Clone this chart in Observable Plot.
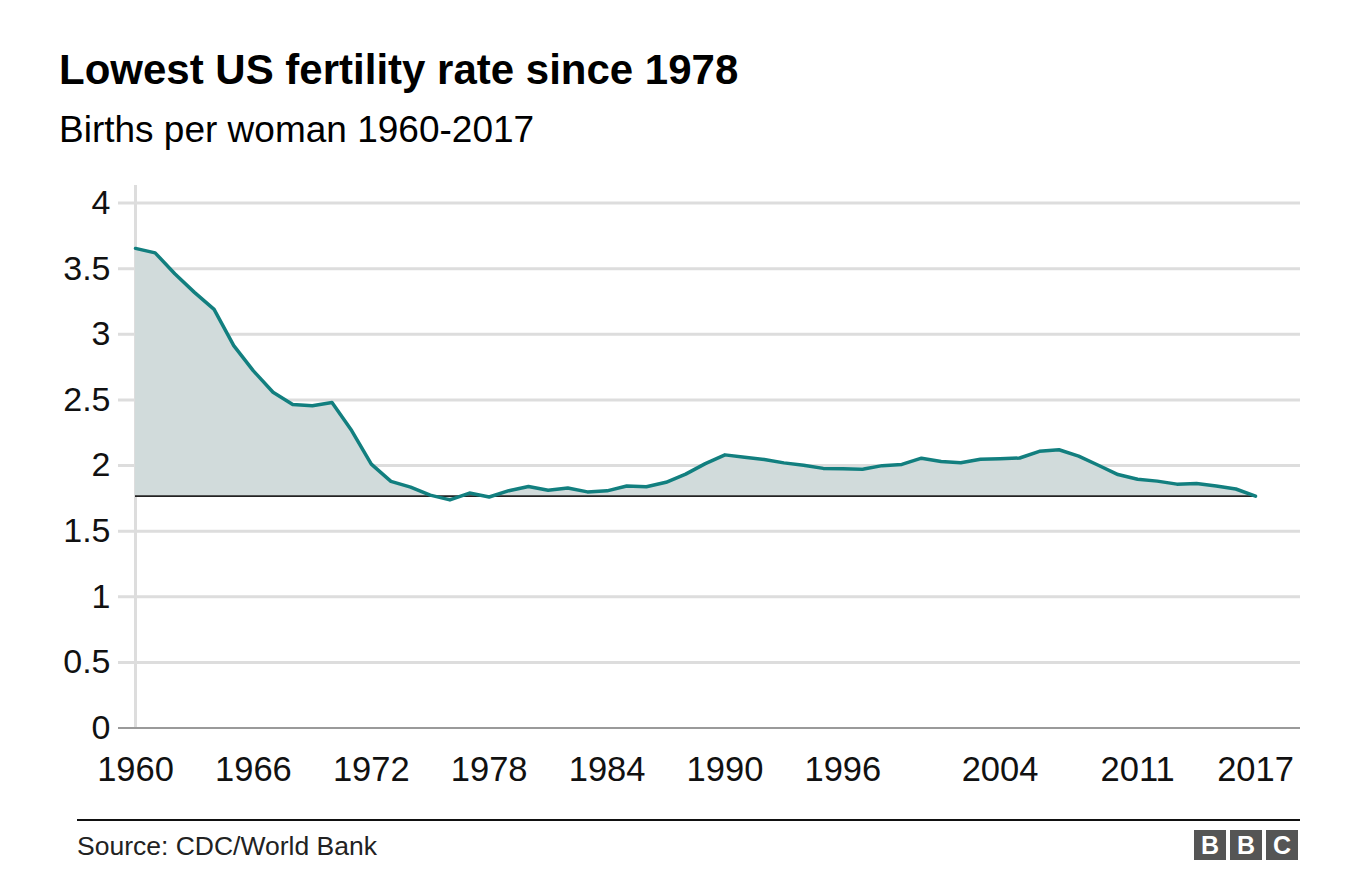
<!DOCTYPE html>
<html>
<head>
<meta charset="utf-8">
<script src="https://cdn.jsdelivr.net/npm/d3@7"></script>
<script src="https://cdn.jsdelivr.net/npm/@observablehq/plot@0.6"></script>
<style>
  html, body { margin: 0; padding: 0; background: #fff; }
  body { width: 1365px; height: 878px; position: relative; overflow: hidden; font-family: "Liberation Sans", Arial, sans-serif; color: #000; }
  .t { position: absolute; line-height: 1; white-space: nowrap; }
  #title { left: 59px; top: 49px; font-size: 42px; font-weight: bold; }
  #subtitle { left: 59px; top: 111px; font-size: 37px; }
  #chart { position: absolute; left: 0; top: 170px; }
  #rule { position: absolute; left: 77px; top: 819px; width: 1223px; height: 2px; background: #111; }
  #source { left: 77px; top: 833px; font-size: 26.5px; color: #222; }
  #logo { position: absolute; left: 1194px; top: 830px; display: flex; gap: 4px; }
  #logo div { width: 32px; height: 30px; background: #555; color: #fff; font-weight: bold; font-size: 25px; line-height: 30px; text-align: center; }
</style>
</head>
<body>
<div id="title" class="t">Lowest US fertility rate since 1978</div>
<div id="subtitle" class="t">Births per woman 1960-2017</div>
<div id="chart"></div>
<div id="rule"></div>
<div id="source" class="t">Source: CDC/World Bank</div>
<div id="logo"><div>B</div><div>B</div><div>C</div></div>
<script>
const years = d3.range(1960, 2018);
const births = [
  3.654, 3.620, 3.461, 3.319, 3.190, 2.913, 2.721, 2.558, 2.464, 2.456,
  2.480, 2.266, 2.010, 1.879, 1.835, 1.774, 1.738, 1.790, 1.760, 1.808,
  1.840, 1.812, 1.828, 1.799, 1.807, 1.844, 1.838, 1.872, 1.934, 2.014,
  2.081, 2.063, 2.046, 2.020, 2.002, 1.978, 1.976, 1.971, 1.999, 2.008,
  2.056, 2.031, 2.021, 2.048, 2.052, 2.057, 2.108, 2.120, 2.072, 2.002,
  1.931, 1.895, 1.881, 1.858, 1.863, 1.844, 1.821, 1.766
];
const xTicks = [1960, 1966, 1972, 1978, 1984, 1990, 1996, 2004, 2011, 2017];
const yTicks = [0, 0.5, 1, 1.5, 2, 2.5, 3, 3.5, 4];
const baseline = births[births.length - 1];

const data = years.map((year, i) => ({year, value: births[i]}));

const chart = Plot.plot({
  width: 1365,
  height: 630,
  marginLeft: 118,
  marginRight: 65,
  marginTop: 15,
  marginBottom: 72,
  style: { fontFamily: "Liberation Sans, Arial, sans-serif", color: "#111", background: "transparent" },
  x: { domain: [1960, 2017], range: [135, 1255] },
  y: { domain: [0, 4], range: [557.5, 32.5] },
  marks: [
    Plot.ruleY(yTicks.filter(d => d > 0), { stroke: "#dddddd", strokeWidth: 3 }),
    Plot.ruleX([1960], { stroke: "#dddddd", strokeWidth: 3 }),
    Plot.ruleY([0], { stroke: "#9a9a9a", strokeWidth: 2 }),
    Plot.areaY(data, { x: "year", y1: baseline, y2: "value", fill: "#d1dbdb" }),
    Plot.ruleY([baseline], { x1: 1960, x2: 2017, stroke: "#222", strokeWidth: 1.8 }),
    Plot.lineY(data, { x: "year", y: "value", stroke: "#127f7f", strokeWidth: 3.5, strokeLinejoin: "round" }),
    Plot.axisX(xTicks, { tickSize: 0, tickPadding: 28, fontSize: 34.5, tickFormat: d => String(d), label: null }),
    Plot.axisY(yTicks, { tickSize: 0, tickPadding: 8, fontSize: 34, tickFormat: d => String(d), label: null })
  ]
});
document.getElementById("chart").appendChild(chart);
</script>
</body>
</html>
